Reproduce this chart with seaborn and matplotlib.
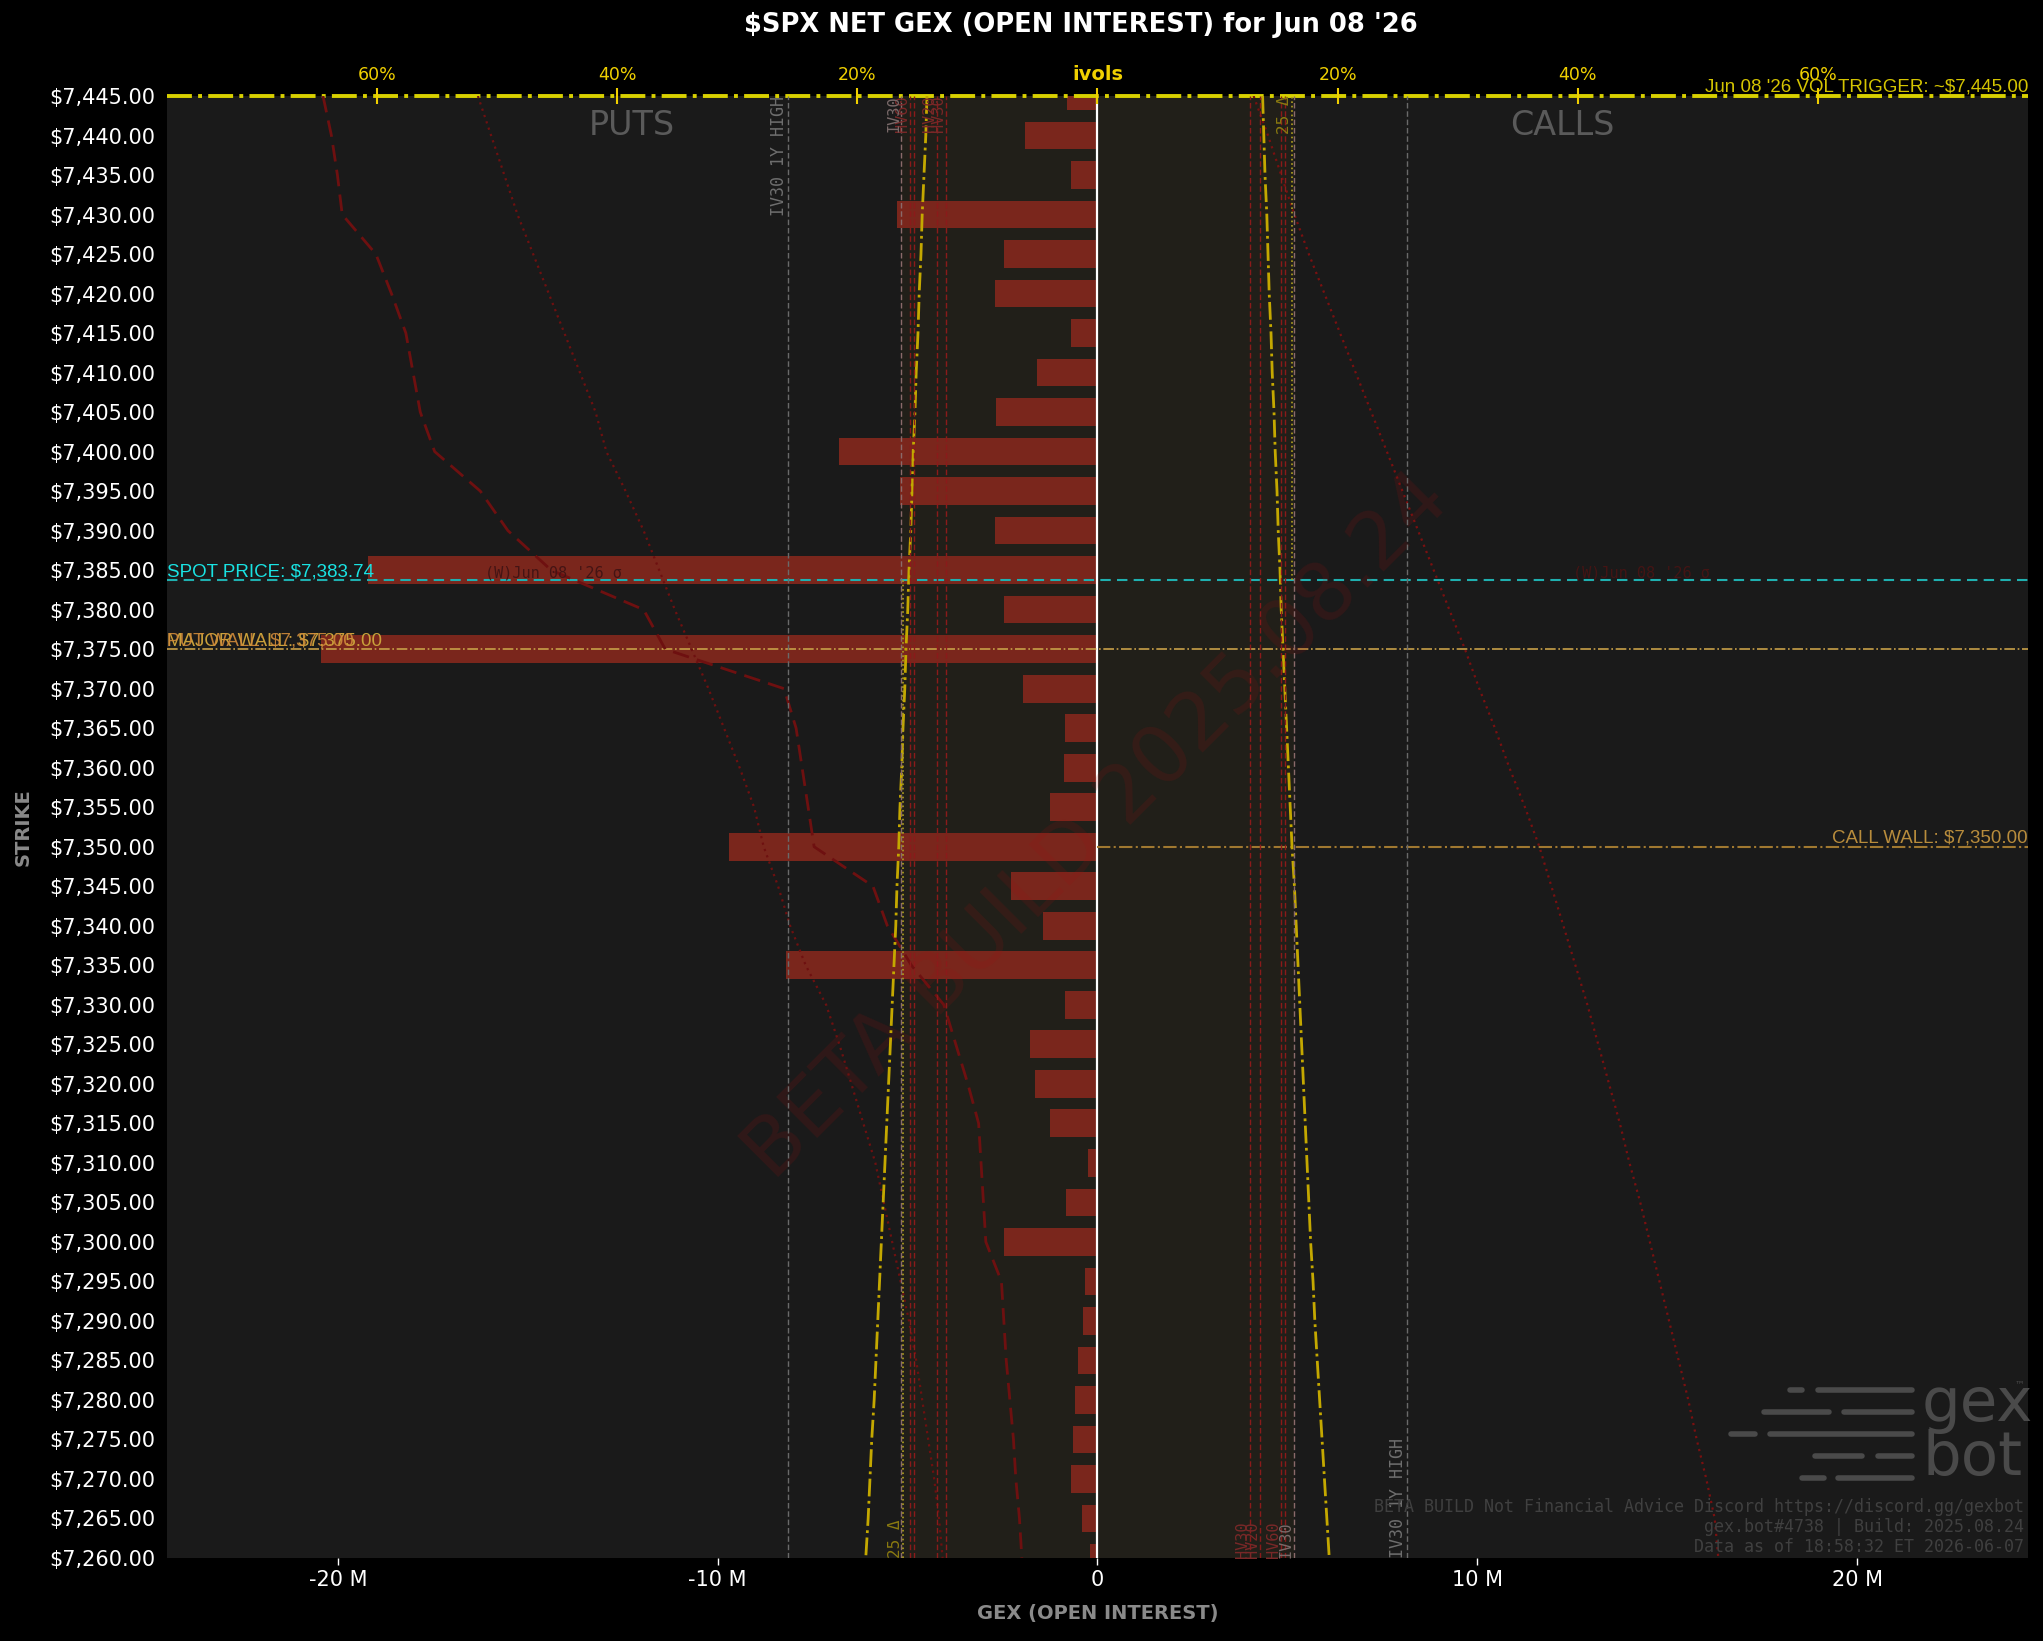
import matplotlib
matplotlib.use("Agg")
import matplotlib.pyplot as plt
import seaborn as sns
import pandas as pd
from matplotlib.transforms import blended_transform_factory
from matplotlib.patches import Rectangle
from matplotlib.lines import Line2D
from matplotlib.ticker import FuncFormatter

# ---------------- data ----------------
strikes = [7445, 7440, 7435, 7430, 7425, 7420, 7415, 7410, 7405, 7400,
           7395, 7390, 7385, 7380, 7375, 7370, 7365, 7360, 7355, 7350,
           7345, 7340, 7335, 7330, 7325, 7320, 7315, 7310, 7305, 7300,
           7295, 7290, 7285, 7280, 7275, 7270, 7265, 7260]

net_gex_m = [-0.79, -1.92, -0.69, -5.29, -2.47, -2.71, -0.69, -1.58, -2.68, -6.80,
             -5.19, -2.71, -19.21, -2.47, -20.45, -1.96, -0.86, -0.89, -1.24, -9.69,
             -2.27, -1.44, -8.21, -0.86, -1.79, -1.65, -1.24, -0.24, -0.82, -2.47,
             -0.34, -0.38, -0.52, -0.58, -0.65, -0.69, -0.41, -0.21]

# implied vols (percent) drawn on the "ivols" axis; puts are shown on the negative side
put_iv_dashed = [-64.5, -63.8, -63.3, -62.9, -60.1, -58.8, -57.6, -57.0, -56.4, -55.2,
                 -51.4, -49.1, -45.5, -37.8, -36.0, -26.1, -25.1, -24.6, -24.1, -23.6,
                 -18.7, -17.5, -15.5, -12.8, -11.8, -10.8, -9.9, -9.7, -9.5, -9.3,
                 -8.0, -7.8, -7.6, -7.3, -7.0, -6.8, -6.5, -6.3]

put_iv_dotted = [-51.6, -50.5, -49.4, -48.3, -47.0, -45.7, -44.4, -43.1, -41.8, -40.9,
                 -39.3, -37.8, -36.5, -35.2, -33.8, -32.4, -31.1, -29.8, -28.6, -27.8,
                 -26.6, -25.6, -24.3, -22.6, -21.5, -20.5, -19.5, -18.5, -17.8, -17.1,
                 -16.4, -15.7, -15.1, -14.6, -14.1, -13.6, -13.2, -12.9]

call_iv_dotted = [13.0, 14.2, 15.3, 16.4, 17.6, 18.9, 20.2, 21.5, 22.8, 24.1,
                  25.4, 26.7, 28.0, 29.3, 30.6, 31.8, 33.1, 34.3, 35.6, 36.8,
                  37.8, 38.8, 39.8, 40.8, 41.7, 42.6, 43.5, 44.3, 45.2, 46.0,
                  46.8, 47.6, 48.4, 49.2, 49.9, 50.7, 51.4, 51.7]

put_25d = [-14.2, -14.3, -14.45, -14.6, -14.7, -14.85, -14.95, -15.1, -15.2, -15.35,
           -15.45, -15.55, -15.7, -15.8, -15.95, -16.05, -16.2, -16.3, -16.45, -16.55,
           -16.7, -16.8, -16.95, -17.1, -17.25, -17.4, -17.55, -17.7, -17.85, -18.0,
           -18.15, -18.3, -18.45, -18.6, -18.8, -18.95, -19.1, -19.3]

call_25d = [13.75, 13.85, 13.95, 14.1, 14.2, 14.3, 14.45, 14.55, 14.7, 14.8,
            14.95, 15.05, 15.2, 15.3, 15.45, 15.6, 15.75, 15.9, 16.05, 16.2,
            16.4, 16.55, 16.7, 16.85, 17.0, 17.15, 17.3, 17.45, 17.6, 17.75,
            17.95, 18.1, 18.3, 18.5, 18.7, 18.9, 19.1, 19.3]

spot_price = 7383.74
vol_trigger = 7445.00
major_wall = 7375.00
put_wall = 7375.00
call_wall = 7350.00

iv30 = 16.35
iv30_1y_high = 25.8
atm_iv = 16.2
put_ref_lines = [("HV60", 15.6), ("", 15.3), ("HV20", 13.4), ("HV30", 12.6)]
call_ref_lines = [("HV30", 12.7), ("HV20", 13.55), ("HV60", 15.3), ("", 15.6)]

ivol_ticks = [-60, -40, -20, 0, 20, 40, 60]
ivol_tick_labels = ["60%", "40%", "20%", "ivols", "20%", "40%", "60%"]
gex_ticks = [-20e6, -10e6, 0, 10e6, 20e6]

df = pd.DataFrame({
    "strike": strikes,
    "gex": [v * 1e6 for v in net_gex_m],
    "put_dash": put_iv_dashed,
    "put_dot": put_iv_dotted,
    "call_dot": call_iv_dotted,
    "put_25d": put_25d,
    "call_25d": call_25d,
})

# ---------------- style ----------------
sns.set_style("dark")
plt.rcParams["font.family"] = ["DejaVu Sans"]
plt.rcParams["axes.unicode_minus"] = False

FIG_BG = "#000000"
AX_BG = "#1a1a1a"
BAR = "#7a261c"
YEL = "#d8d000"
RED_CURVE = "#6e1010"
LBL_FONT = ["Liberation Sans", "DejaVu Sans"]

fig = plt.figure(figsize=(20.43, 16.41), dpi=100, facecolor=FIG_BG)
ax = fig.add_axes([0.0817, 0.0506, 0.9110, 0.8909])
ax.set_facecolor(AX_BG)

# ---------------- bars ----------------
sns.barplot(data=df, x="gex", y="strike", orient="h", native_scale=True,
            width=0.7, color=BAR, saturation=1, errorbar=None, ax=ax, zorder=2,
            edgecolor="none", linewidth=0)

ax.set_xlim(-24.5e6, 24.5e6)
ax.set_ylim(min(strikes), max(strikes))

ax2 = ax.twiny()
ax2.set_xlim(-77.5, 77.5)

# shaded band between IV30 levels (drawn below bars)
band_tr = blended_transform_factory(ax2.transData, ax.transAxes)
ax.add_patch(Rectangle((-iv30, 0), 2 * iv30, 1, transform=band_tr,
                       facecolor="#211f19", edgecolor="none", zorder=0.5))

# zero line
ax.axvline(0, color="white", lw=1.6, zorder=4)

# horizontal levels
ax.axhline(spot_price, color="#1fb0b0", lw=1.5, ls=(0, (5, 3)), zorder=5)
ax.axhline(major_wall, color="#c8a048", lw=1.2, ls="-.", zorder=5)
ax.axhline(call_wall, xmin=0.5, xmax=1.0, color="#a07830", lw=1.5, ls="-.", zorder=5)
ax.axhline(vol_trigger, color=YEL, lw=2.8, ls="-.", zorder=6, clip_on=False)

ytr = ax.get_yaxis_transform()
LFS = 13.5
ax.text(0.0, spot_price, f"SPOT PRICE: ${spot_price:,.2f}", transform=ytr,
        ha="left", va="bottom", color="#19e3e3", fontsize=LFS, family=LBL_FONT,
        zorder=7, parse_math=False)
ax.text(0.0, major_wall, f"MAJOR WALL: ${major_wall:,.2f}", transform=ytr,
        ha="left", va="bottom", color="#c9a03a", fontsize=LFS, family=LBL_FONT,
        zorder=7, parse_math=False)
ax.text(0.0, put_wall, f"PUT WALL: ${put_wall:,.2f}", transform=ytr,
        ha="left", va="bottom", color="#d08a3a", fontsize=LFS, family=LBL_FONT,
        zorder=7, alpha=0.9, parse_math=False)
ax.text(1.0, call_wall, f"CALL WALL: ${call_wall:,.2f}", transform=ytr,
        ha="right", va="bottom", color="#b88c3c", fontsize=LFS, family=LBL_FONT,
        zorder=7, parse_math=False)
ax.text(1.0, vol_trigger, f"Jun 08 '26 VOL TRIGGER: ~${vol_trigger:,.2f}", transform=ytr,
        ha="right", va="bottom", color="#d4c400", fontsize=LFS, family=LBL_FONT,
        zorder=7, parse_math=False)

# PUTS / CALLS
ax.text(0.25, 0.980, "PUTS", transform=ax.transAxes, ha="center", va="center",
        color="#5a5a5a", fontsize=24, zorder=3)
ax.text(0.75, 0.980, "CALLS", transform=ax.transAxes, ha="center", va="center",
        color="#5a5a5a", fontsize=24, zorder=3)

# watermark
ax.text(0.5, 0.5, "BETA BUILD 2025.08.24", transform=ax.transAxes, rotation=45,
        ha="center", va="center", color="#a01010", alpha=0.16, fontsize=58, zorder=8)

# ---------------- ivol curves on twin axis ----------------
sns.lineplot(data=df, x="put_dash", y="strike", orient="y", sort=False, estimator=None,
             ax=ax2, color=RED_CURVE, lw=2.0, linestyle=(0, (6, 3)))
sns.lineplot(data=df, x="put_dot", y="strike", orient="y", sort=False, estimator=None,
             ax=ax2, color=RED_CURVE, lw=1.6, linestyle=(0, (1, 2)))
sns.lineplot(data=df, x="call_dot", y="strike", orient="y", sort=False, estimator=None,
             ax=ax2, color="#7a1010", lw=1.6, linestyle=(0, (1, 2)))
sns.lineplot(data=df, x="put_25d", y="strike", orient="y", sort=False, estimator=None,
             ax=ax2, color="#c4a800", lw=2.0, linestyle="-.")
sns.lineplot(data=df, x="call_25d", y="strike", orient="y", sort=False, estimator=None,
             ax=ax2, color="#c4a800", lw=2.0, linestyle="-.")

# reference vertical lines
ymin, ymax = min(strikes), max(strikes)
MONO = "DejaVu Sans Mono"
for side in (-1, 1):
    ax2.axvline(side * iv30_1y_high, color="#6a6a6a", lw=1, ls=(0, (4, 2)))
    ax2.axvline(side * iv30, color="#8a6a6a", lw=1, ls=(0, (4, 2)))
for lbl, v in put_ref_lines:
    ax2.axvline(-v, color="#8b1a1a", lw=1, ls=(0, (4, 2)))
    if lbl:
        ax2.text(-v, ymax, lbl, rotation=90, ha="right", va="top", fontsize=11,
                 family=MONO, color="#7a2828")
for lbl, v in call_ref_lines:
    ax2.axvline(v, color="#8b1a1a", lw=1, ls=(0, (4, 2)))
    if lbl:
        ax2.text(v, ymin, lbl, rotation=90, ha="right", va="bottom", fontsize=11,
                 family=MONO, color="#7a2828")
ax2.text(-iv30_1y_high, ymax, "IV30 1Y HIGH", rotation=90, ha="right", va="top",
         fontsize=12, family=MONO, color="#6e6e6e")
ax2.text(iv30_1y_high, ymin, "IV30 1Y HIGH", rotation=90, ha="right", va="bottom",
         fontsize=12, family=MONO, color="#6e6e6e")
ax2.text(-iv30, ymax, "IV30", rotation=90, ha="right", va="top",
         fontsize=11, family=MONO, color="#7a6a6a")
ax2.text(iv30, ymin, "IV30", rotation=90, ha="right", va="bottom",
         fontsize=11, family=MONO, color="#7a6a6a")

# ATM markers (dotted yellow) and 25 delta labels
ax2.vlines(-atm_iv, ymin, spot_price, color="#b0a020", lw=1.2, linestyles=":")
ax2.vlines(atm_iv, spot_price, ymax, color="#b0a020", lw=1.2, linestyles=":")
ax2.text(-atm_iv, ymin, "25 Δ", rotation=90, ha="right", va="bottom",
         fontsize=11.5, family=MONO, color="#8a7a10")
ax2.text(atm_iv, ymax, "25 Δ", rotation=90, ha="right", va="top",
         fontsize=11.5, family=MONO, color="#8a7a10")

# expiry sigma labels along the spot line
for side in (-1, 1):
    ax2.text(side * 45.3, spot_price, "(W)Jun 08 '26 σ", ha="center", va="bottom",
             fontsize=11, family=MONO, color="#441414")

# ---------------- axes formatting ----------------
ax.set_yticks(strikes)
ax.set_yticklabels([f"${s:,.2f}" for s in strikes])
ax.set_xticks(gex_ticks)
ax.xaxis.set_major_formatter(FuncFormatter(lambda v, p: "0" if v == 0 else f"{v/1e6:.0f} M"))
ax.tick_params(axis="both", colors="white", labelsize=15, length=5, width=1)
ax.set_xlabel("")
ax.set_ylabel("")
ax.grid(False)

ax2.set_xticks(ivol_ticks)
ax2.set_xticklabels(ivol_tick_labels)
ax2.tick_params(axis="x", colors="#f0d000", labelsize=12.5, direction="inout",
                length=11, width=1.5, pad=3)
for t in ax2.get_xticklabels():
    if t.get_text() == "ivols":
        t.set_fontweight("bold")
        t.set_fontsize(14)
ax2.set_xlabel("")
ax2.set_ylabel("")
ax2.grid(False)
ax.set_ylim(ymin, ymax)
ax2.set_xlim(-77.5, 77.5)

for a in (ax, ax2):
    for s in a.spines.values():
        s.set_visible(False)

# ---------------- titles / labels ----------------
fig.text(0.529, 1 - 25 / 1641, "$SPX NET GEX (OPEN INTEREST) for Jun 08 '26",
         ha="center", va="center", color="white", fontsize=18.5, fontweight="bold",
         parse_math=False)
fig.text(0.5375, 1 - 1614 / 1641, "GEX (OPEN INTEREST)", ha="center", va="center",
         color="#8a8a8a", fontsize=14, fontweight="bold")
fig.text(0.0113, 0.496, "STRIKE", ha="center", va="center", rotation=90,
         color="#8a8a8a", fontsize=14, fontweight="bold")

# footer
foot = ["BETA BUILD Not Financial Advice Discord https://discord.gg/gexbot",
        "gex.bot#4738 | Build: 2025.08.24",
        "Data as of 18:58:32 ET 2026-06-07"]
for txt, ypx in zip(foot, [1507, 1527, 1547]):
    fig.text(2024 / 2043, 1 - ypx / 1641, txt, ha="right", va="center",
             family=MONO, fontsize=12, color="#404040", zorder=10)

# gexbot logo
LOGO = "#4a4a4a"
stripes = [(1390, [(1790, 1802), (1818, 1912)]),
           (1412, [(1764, 1829), (1844, 1912)]),
           (1434, [(1731, 1755), (1770, 1912)]),
           (1456, [(1815, 1862), (1878, 1912)]),
           (1478, [(1802, 1824), (1838, 1912)])]
for ypx, segs in stripes:
    for x0, x1 in segs:
        fig.add_artist(Line2D([x0 / 2043, x1 / 2043], [1 - ypx / 1641] * 2,
                              color=LOGO, lw=4, solid_capstyle="round", zorder=10))
fig.text(1922 / 2043, 1 - 1404 / 1641, "gex", ha="left", va="center",
         fontsize=44, color=LOGO, zorder=10)
fig.text(1922 / 2043, 1 - 1458 / 1641, "bot", ha="left", va="center",
         fontsize=44, color=LOGO, zorder=10)
fig.text(2015 / 2043, 1 - 1384 / 1641, "™", ha="left", va="center",
         fontsize=7, color=LOGO, zorder=10)

fig.savefig("out.png", dpi=100, facecolor=FIG_BG)
